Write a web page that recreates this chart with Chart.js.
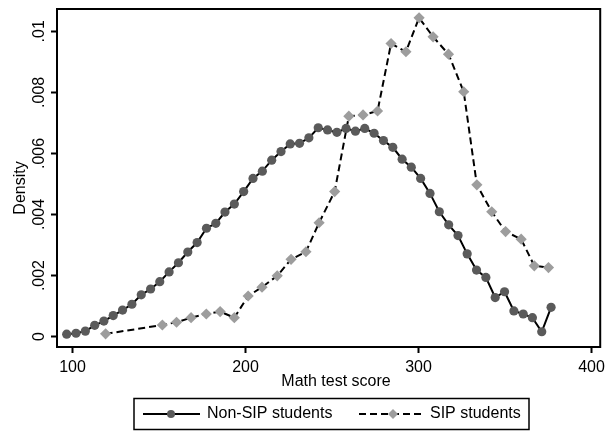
<!DOCTYPE html>
<html>
<head>
<meta charset="utf-8">
<script src="https://cdn.jsdelivr.net/npm/chart.js@4.4.1/dist/chart.umd.min.js"></script>
<style>
  html, body { margin: 0; padding: 0; background: #fff; }
  #wrap { width: 610px; height: 432px; }
</style>
</head>
<body>
<div id="wrap"><canvas id="densityChart" width="610" height="432"></canvas></div>
<script>
// datos
const nonSipX = [96.6, 102.0, 107.4, 112.8, 118.1, 123.5, 128.9, 134.3, 139.7, 145.1, 150.4, 155.8, 161.2, 166.6, 172.0, 177.4, 182.8, 188.1, 193.5, 198.9,
  204.3, 209.7, 215.1, 220.5, 225.8, 231.2, 236.6, 242.0, 247.4, 252.8, 258.1, 263.5, 268.9, 274.3, 279.7, 285.1, 290.5, 295.8, 301.2,
  306.6, 312.0, 317.4, 322.8, 328.1, 333.5, 338.9, 344.3, 349.7, 355.1, 360.5, 365.8, 371.2, 376.6];
const nonSipY = [.00008, .00011, .00018, .00037, .00051, .00069, .00087, .00106, .00137, .00156, .0018, .00212, .00242, .00277, .00308, .00355, .00371, .00408, .00434, .00475,
  .00518, .00542, .00578, .00606, .00631, .00633, .00651, .00684, .00677, .00669, .00682, .00673, .00682, .00666, .00642, .0062, .00581, .00555, .00518,
  .00469, .00409, .00366, .00331, .00271, .00218, .00194, .00128, .00147, .00084, .00074, .00062, .00016, .00096];

const sipX = [119.1, 151.9, 160.1, 168.5, 177.3, 185.3, 193.5, 201.5, 209.5, 218.3, 226.3, 234.9, 242.5, 251.5, 259.7, 267.9, 276.3,
  284.1, 292.7, 300.3, 308.4, 317.3, 326.1, 333.7, 342.3, 350.3, 359.3, 366.9, 375.1];
const sipY = [.00009, .00038, .00047, .00062, .00074, .00082, .00062, .00133, .00162, .00199, .00253, .00278, .00373, .00475, .00722, .00726, .00739,
  .0096, .00933, .01044, .00982, .00925, .00802, .00497, .00409, .00344, .00319, .00232, .00226];

const xTicks = [100, 200, 300, 400];
const yTicks = [0, .002, .004, .006, .008, .01];
const yTickLabels = ['0', '.002', '.004', '.006', '.008', '.01'];
const seriesNames = ['Non-SIP students', 'SIP students'];

const FONT = 'Liberation Sans, Arial, sans-serif';
const darkDot = '#5a5a5a';
const lightDot = '#9d9d9d';
const dash = [7, 4];

function toPoints(xs, ys) {
  return xs.map((x, i) => ({ x: x, y: ys[i] }));
}

// marco, textos rotados y leyenda a mano
const extrasPlugin = {
  id: 'extras',
  afterDraw(chart) {
    const ctx = chart.ctx;
    const a = chart.chartArea;
    const yScale = chart.scales.y;
    ctx.save();
    ctx.strokeStyle = '#000';
    ctx.lineWidth = 2;
    ctx.strokeRect(a.left, a.top, a.right - a.left, a.bottom - a.top);

    ctx.fillStyle = '#000';
    ctx.font = '16px ' + FONT;
    ctx.textAlign = 'center';
    ctx.textBaseline = 'alphabetic';
    yTicks.forEach((v, i) => {
      const py = yScale.getPixelForValue(v);
      ctx.save();
      ctx.translate(44, py);
      ctx.rotate(-Math.PI / 2);
      ctx.fillText(yTickLabels[i], 0, 0);
      ctx.restore();
    });
    ctx.save();
    ctx.translate(25, 188);
    ctx.rotate(-Math.PI / 2);
    ctx.fillText('Density', 0, 0);
    ctx.restore();

    ctx.textBaseline = 'middle';
    ctx.fillText('Math test score', 336, 382);

    // leyenda
    const ly = 414;
    ctx.lineWidth = 1.5;
    ctx.strokeRect(134, 398.5, 395, 31);
    ctx.lineWidth = 2;
    ctx.beginPath();
    ctx.moveTo(143, ly); ctx.lineTo(200, ly);
    ctx.stroke();
    ctx.fillStyle = darkDot;
    ctx.beginPath();
    ctx.arc(171, ly, 4, 0, Math.PI * 2);
    ctx.fill();
    ctx.setLineDash(dash);
    ctx.beginPath();
    ctx.moveTo(359, ly); ctx.lineTo(422, ly);
    ctx.stroke();
    ctx.setLineDash([]);
    ctx.fillStyle = lightDot;
    ctx.beginPath();
    ctx.moveTo(393, ly - 5); ctx.lineTo(398, ly); ctx.lineTo(393, ly + 5); ctx.lineTo(388, ly);
    ctx.closePath();
    ctx.fill();
    ctx.fillStyle = '#000';
    ctx.textAlign = 'left';
    ctx.fillText(seriesNames[0], 207, ly);
    ctx.fillText(seriesNames[1], 430, ly);
    ctx.restore();
  }
};

const ctx = document.getElementById('densityChart').getContext('2d');
new Chart(ctx, {
  type: 'scatter',
  data: {
    datasets: [
      {
        label: seriesNames[0],
        data: toPoints(nonSipX, nonSipY),
        showLine: true,
        borderColor: '#000',
        borderWidth: 2,
        pointStyle: 'circle',
        pointRadius: 4.6,
        pointBackgroundColor: darkDot,
        pointBorderColor: darkDot,
        pointBorderWidth: 0
      },
      {
        label: seriesNames[1],
        data: toPoints(sipX, sipY),
        showLine: true,
        borderColor: '#000',
        borderWidth: 2,
        borderDash: dash,
        pointStyle: 'rectRot',
        pointRadius: 5.6,
        pointBackgroundColor: lightDot,
        pointBorderColor: lightDot,
        pointBorderWidth: 0
      }
    ]
  },
  options: {
    responsive: false,
    animation: false,
    layout: { padding: { left: 0, top: 9, right: 4, bottom: 40 } },
    plugins: { legend: { display: false }, tooltip: { enabled: false } },
    scales: {
      x: {
        type: 'linear',
        min: 91,
        max: 405,
        afterBuildTicks: (scale) => { scale.ticks = xTicks.map(v => ({ value: v })); },
        afterFit: (scale) => { scale.height = 45; },
        grid: { drawOnChartArea: false, drawTicks: true, tickLength: 6, tickWidth: 2, tickColor: '#000' },
        border: { display: false },
        ticks: { color: '#000', font: { family: FONT, size: 16 }, padding: 5, maxRotation: 0 }
      },
      y: {
        type: 'linear',
        min: -0.00034,
        max: 0.01073,
        afterBuildTicks: (scale) => { scale.ticks = yTicks.map(v => ({ value: v })); },
        afterFit: (scale) => { scale.width = 57; },
        grid: { drawOnChartArea: false, drawTicks: true, tickLength: 6, tickWidth: 2, tickColor: '#000' },
        border: { display: false },
        ticks: { display: false }
      }
    }
  },
  plugins: [extrasPlugin]
});
</script>
</body>
</html>
